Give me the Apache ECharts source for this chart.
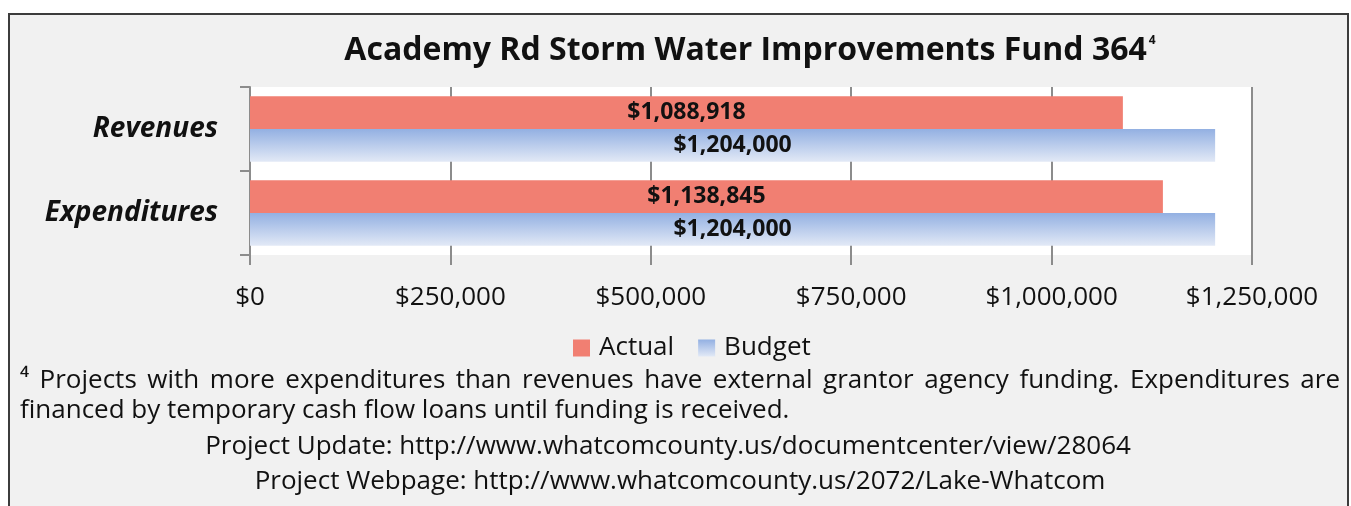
<!DOCTYPE html>
<html>
<head>
<meta charset="utf-8">
<script src="https://cdn.jsdelivr.net/npm/echarts@6/dist/echarts.min.js"></script>
<style>
  html, body { margin: 0; padding: 0; background: #ffffff; }
  #frame { position: absolute; left: 8px; top: 13px; width: 1341px; height: 500px;
           border: 2px solid #3c3c3c; border-bottom: none; background: #f1f1f1; box-sizing: border-box; }
  #chart { position: absolute; left: 0; top: 0; width: 1351px; height: 506px; }
</style>
</head>
<body>
<div id="frame"></div>
<div id="chart"></div>
<script>
// Fund 364 figures
const categories = ['Revenues', 'Expenditures'];
const actualValues = [1088918, 1138845];
const budgetValues = [1204000, 1204000];
const seriesNames = ['Actual', 'Budget'];
const xTicks = [0, 250000, 500000, 750000, 1000000, 1250000];

const titleText = 'Academy Rd Storm Water Improvements Fund 364';
const noteLine1 = '\u2074 Projects with more expenditures than revenues have external grantor agency funding. Expenditures are';
const noteLine2 = 'financed by temporary cash flow loans until funding is received.';
const linkLine1 = 'Project Update: http://www.whatcomcounty.us/documentcenter/view/28064';
const linkLine2 = 'Project Webpage: http://www.whatcomcounty.us/2072/Lake-Whatcom';

const FONT = '"Open Sans", sans-serif';
const INK = '#111111';

function money(v) {
  return '$' + Math.round(v).toString().replace(/\B(?=(\d{3})+(?!\d))/g, ',');
}

const blueFill = new echarts.graphic.LinearGradient(0, 0, 0, 1, [
  { offset: 0, color: '#93b0e2' },
  { offset: 1, color: '#e2e9f6' }
]);

// justified first footnote line: spread the words between the two margins
function justifiedWords(text, left, right, y, font) {
  const ctx = document.createElement('canvas').getContext('2d');
  ctx.font = font;
  const words = text.split(' ');
  const widths = words.map(w => ctx.measureText(w).width);
  const total = widths.reduce((a, b) => a + b, 0);
  const gap = (right - left - total) / (words.length - 1);
  const out = [];
  let x = left;
  words.forEach((w, i) => {
    out.push({ type: 'text', x: x, y: y, silent: true,
      style: { text: w, font: font, fill: INK, verticalAlign: 'middle' } });
    x += widths[i] + gap;
  });
  return out;
}

const noteFont = '26px ' + FONT;

function noteText(text, x, y, align) {
  return { type: 'text', x: x, y: y, silent: true,
    style: { text: text, font: noteFont, fill: INK, align: align, verticalAlign: 'middle' } };
}

const chart = echarts.init(document.getElementById('chart'), null, { renderer: 'canvas' });
chart.setOption({
  backgroundColor: 'transparent',
  animation: false,
  title: {
    text: '{t|' + titleText + '}{s|4}',
    left: 745,
    textAlign: 'center',
    top: 30,
    textStyle: {
      rich: {
        t: { fontFamily: FONT, fontWeight: 'bold', fontSize: 32, color: INK },
        s: { fontFamily: FONT, fontSize: 12, color: INK, verticalAlign: 'top', padding: [0, 0, 18, 2] }
      }
    }
  },
  legend: {
    data: seriesNames,
    top: 330,
    left: 568,
    icon: 'rect',
    itemWidth: 17,
    itemHeight: 17,
    itemGap: 24,
    textStyle: { fontFamily: FONT, fontSize: 26, color: INK, padding: [0, 0, 0, 4] }
  },
  grid: {
    left: 250, right: 99, top: 87, height: 168,
    show: true, backgroundColor: '#ffffff', borderWidth: 0
  },
  xAxis: {
    type: 'value',
    min: 0, max: 1250000, interval: 250000,
    axisLine: { show: false },
    axisTick: { show: true, length: 10, lineStyle: { color: '#8c8c8c', width: 2 } },
    splitLine: { show: true, lineStyle: { color: '#8c8c8c', width: 2 } },
    axisLabel: {
      fontFamily: FONT, fontSize: 26, color: INK, margin: 30,
      formatter: v => xTicks.includes(v) ? money(v) : ''
    }
  },
  yAxis: {
    type: 'category',
    data: categories,
    inverse: true,
    axisLine: { show: true, lineStyle: { color: '#8c8c8c', width: 2 } },
    axisTick: { show: true, length: 10, lineStyle: { color: '#8c8c8c', width: 2 } },
    axisLabel: {
      fontFamily: FONT, fontSize: 28, fontWeight: 'bold', fontStyle: 'italic',
      color: INK, margin: 32
    }
  },
  series: [
    {
      name: seriesNames[0], type: 'bar', data: actualValues,
      barGap: '0%', barCategoryGap: '22%',
      itemStyle: { color: '#f17f72' },
      label: { show: true, position: 'inside', formatter: p => money(p.value),
        fontFamily: FONT, fontWeight: 'bold', fontSize: 23, color: INK }
    },
    {
      name: seriesNames[1], type: 'bar', data: budgetValues,
      barGap: '0%', barCategoryGap: '22%',
      itemStyle: { color: blueFill },
      label: { show: true, position: 'inside', formatter: p => money(p.value),
        fontFamily: FONT, fontWeight: 'bold', fontSize: 23, color: INK }
    }
  ],
  graphic: [
    ...justifiedWords(noteLine1, 20, 1340, 381, noteFont),
    noteText(noteLine2, 20, 411, 'left'),
    noteText(linkLine1, 668, 447, 'center'),
    noteText(linkLine2, 680, 482, 'center')
  ]
});
</script>
</body>
</html>
